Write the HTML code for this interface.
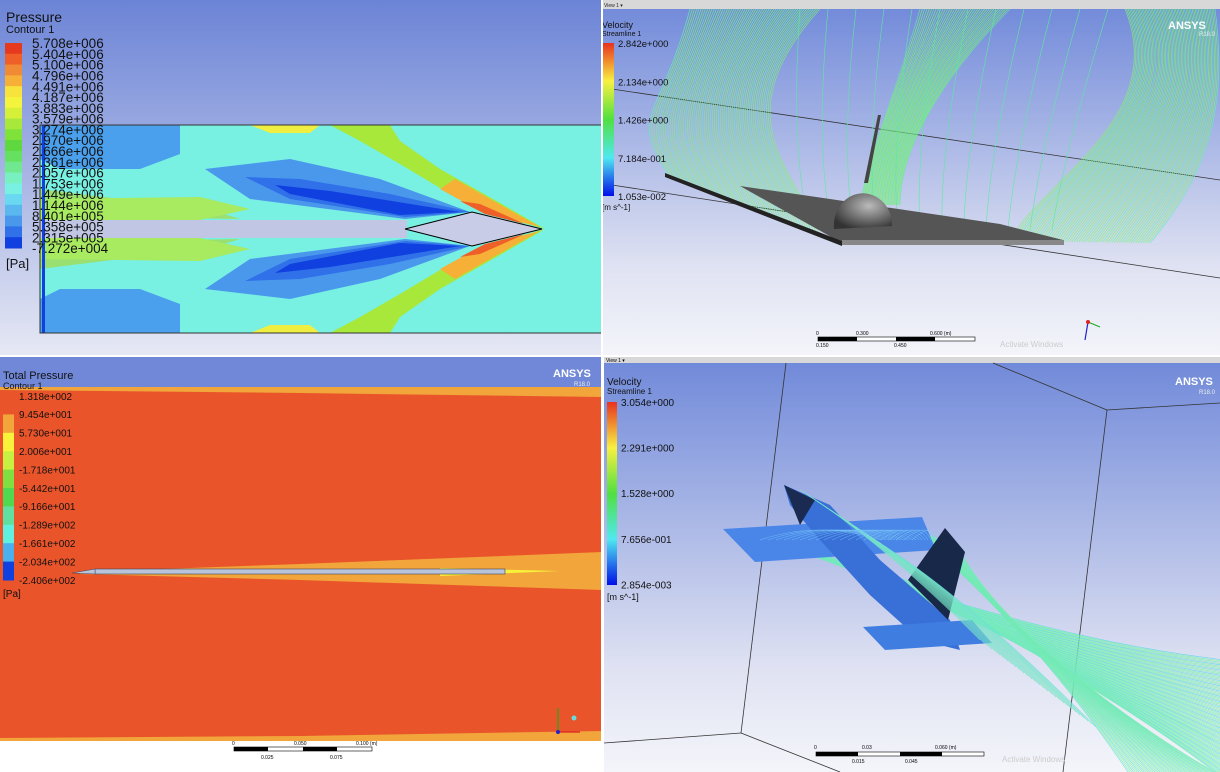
<!DOCTYPE html>
<html><head><meta charset="utf-8">
<style>
html,body{margin:0;padding:0;background:#fff;width:1220px;height:772px;overflow:hidden;}
body{font-family:"Liberation Sans",sans-serif;}
svg{display:block;overflow:hidden}
text{font-family:"Liberation Sans",sans-serif;}
</style></head>
<body>
<svg id="s" width="1220" height="772" viewBox="0 0 1220 772">
<defs>
<linearGradient id="bgA" x1="0" y1="0" x2="0" y2="1"><stop offset="0" stop-color="#6c84d6"/><stop offset="1" stop-color="#e6e8f4"/></linearGradient>
<linearGradient id="bgB" x1="0" y1="0" x2="0" y2="1"><stop offset="0" stop-color="#6f88d9"/><stop offset="0.75" stop-color="#dfe2f2"/><stop offset="1" stop-color="#f4f5fa"/></linearGradient>
<linearGradient id="cbV" x1="0" y1="0" x2="0" y2="1"><stop offset="0" stop-color="#e8321e"/><stop offset="0.25" stop-color="#f8f040"/><stop offset="0.5" stop-color="#50e040"/><stop offset="0.75" stop-color="#50e8f0"/><stop offset="1" stop-color="#0010e8"/></linearGradient>
<radialGradient id="dome" cx="0.6" cy="0.35" r="0.7"><stop offset="0" stop-color="#bbb"/><stop offset="1" stop-color="#333"/></radialGradient>
<clipPath id="cTR"><rect x="602" y="9" width="618" height="347"/></clipPath>
<clipPath id="cBR"><rect x="604" y="363" width="616" height="409"/></clipPath>
</defs>

<!-- TOP LEFT -->
<g>
<rect x="0" y="0" width="602" height="356" fill="url(#bgA)"/>
<g id="tlfield">
<rect x="40" y="125" width="562" height="208" fill="#78f0e2"/>
</g>
<rect x="40" y="125" width="562" height="208" fill="none" stroke="#333" stroke-width="1"/>
<text x="6" y="22" font-size="14" fill="#111">Pressure</text>
<text x="6" y="33" font-size="11" fill="#111">Contour 1</text>
<g id="tlcb"></g>
<text x="6" y="268" font-size="13" fill="#111">[Pa]</text>
</g>

<!-- TOP RIGHT -->
<g>
<rect x="602" y="0" width="618" height="356" fill="url(#bgB)"/>
<rect x="602" y="0" width="618" height="9" fill="#d8d8d8"/>
<text x="604" y="7" font-size="5" fill="#222">View 1 ▾</text>
<line x1="612" y1="89" x2="1220" y2="180" stroke="#333" stroke-width="0.8"/>
<line x1="612" y1="185" x2="1220" y2="278" stroke="#333" stroke-width="0.8"/>
<g id="trlines" clip-path="url(#cTR)"></g>
<polygon points="740,186 830,199 1000,224 1063,240 1063,245 842,243" fill="#555"/>
<polygon points="665,173 842,241 842,246 665,177" fill="#222"/>
<rect x="842" y="240" width="222" height="5" fill="#888"/>
<polygon points="878,115 881,115 868,183 864,183" fill="#444"/>
<path d="M 834 229 A 29 32 0 0 1 892 222 L 892 226 Z" fill="url(#dome)"/>
<g id="trlines2" clip-path="url(#cTR)"></g>
<text x="1168" y="29" font-size="11" font-weight="bold" fill="#fff">ANSYS</text>
<text x="1199" y="36" font-size="6" fill="#eee">R18.0</text>
<text x="602" y="28" font-size="9" fill="#111">Velocity</text>
<text x="602" y="36" font-size="7" fill="#111">Streamline 1</text>
<rect x="603" y="43" width="11" height="153" fill="url(#cbV)"/>
<g id="trcb"></g>
<text x="602" y="210" font-size="8" fill="#111">[m s^-1]</text>
<g>
<rect x="818" y="337" width="157" height="4" fill="#fff" stroke="#000" stroke-width="0.6"/>
<rect x="818" y="337" width="39" height="4" fill="#000"/><rect x="896" y="337" width="39" height="4" fill="#000"/>
<text x="816" y="335" font-size="5">0</text><text x="856" y="335" font-size="5">0.300</text><text x="930" y="335" font-size="5">0.600 (m)</text>
<text x="816" y="347" font-size="5">0.150</text><text x="894" y="347" font-size="5">0.450</text>
</g>
<text x="1000" y="347" font-size="8" fill="#ccc">Activate Windows</text>
<line x1="1088" y1="322" x2="1100" y2="327" stroke="#2a2" stroke-width="1.2"/><line x1="1088" y1="322" x2="1085" y2="340" stroke="#22c" stroke-width="1.2"/><circle cx="1088" cy="322" r="2" fill="#d22"/>
</g>

<!-- BOTTOM LEFT -->
<g>
<rect x="0" y="356" width="604" height="416" fill="#fff"/>
<rect x="0" y="357" width="602" height="33" fill="#7188d8"/>
<rect x="0" y="387" width="602" height="354" fill="#e9542a"/>
<polygon points="0,387 602,387 602,397 300,393 0,390" fill="#f1a53a"/>
<polygon points="0,741 602,741 602,731 300,736 0,738" fill="#f1a53a"/>
<polygon points="80,572 300,564 602,552 602,590 300,580 80,574" fill="#f1a53a"/>
<polygon points="440,568 560,571 440,576" fill="#f8f23a"/>
<rect x="95" y="569" width="410" height="5" fill="#b8c4dc" stroke="#445" stroke-width="0.6"/>
<polygon points="72,573 95,569 95,574" fill="#b8c4dc" stroke="#445" stroke-width="0.5"/>
<text x="3" y="379" font-size="11" fill="#111">Total Pressure</text>
<text x="3" y="389" font-size="9" fill="#111">Contour 1</text>
<text x="553" y="377" font-size="11" font-weight="bold" fill="#fff">ANSYS</text>
<text x="574" y="386" font-size="6" fill="#eee">R18.0</text>
<g id="blcb"></g>
<text x="3" y="597" font-size="10" fill="#111">[Pa]</text>
<line x1="558" y1="732" x2="558" y2="708" stroke="#2a2" stroke-width="1.2"/><line x1="558" y1="732" x2="580" y2="732" stroke="#d22" stroke-width="1.2"/><circle cx="558" cy="732" r="2" fill="#22c"/><circle cx="574" cy="718" r="2.5" fill="#6dd"/>
<g>
<rect x="234" y="747" width="138" height="4" fill="#fff" stroke="#000" stroke-width="0.6"/>
<rect x="234" y="747" width="34" height="4" fill="#000"/><rect x="303" y="747" width="34" height="4" fill="#000"/>
<text x="232" y="745" font-size="5">0</text><text x="294" y="745" font-size="5">0.050</text><text x="356" y="745" font-size="5">0.100 (m)</text>
<text x="261" y="759" font-size="5">0.025</text><text x="330" y="759" font-size="5">0.075</text>
</g>
</g>

<!-- BOTTOM RIGHT -->
<g>
<rect x="604" y="356" width="616" height="416" fill="url(#bgB)"/>
<rect x="604" y="356" width="616" height="7" fill="#d8d8d8"/>
<text x="606" y="362" font-size="5">View 1 ▾</text>
<g stroke="#333" stroke-width="0.8" fill="none">
<line x1="786" y1="363" x2="741" y2="733"/><line x1="741" y1="733" x2="604" y2="743"/><line x1="741" y1="733" x2="840" y2="772"/>
<line x1="993" y1="363" x2="1107" y2="410"/><line x1="1107" y1="410" x2="1220" y2="403"/><line x1="1107" y1="410" x2="1063" y2="772"/>
</g>
<g id="brlines" clip-path="url(#cBR)"></g>
<polygon points="723,529 922,517 936,550 755,562" fill="#4a86e8"/>
<polygon points="784,485 830,505 880,560 950,620 960,650 920,640 870,595 820,540 790,505" fill="#3870d8"/>
<polygon points="784,485 815,500 800,525" fill="#1a2a50"/>
<polygon points="945,528 965,552 948,620 908,580" fill="#182848"/>
<polygon points="863,627 972,620 992,643 885,650" fill="#3f7ee0"/>
<g id="brlines2" clip-path="url(#cBR)"></g>
<text x="1175" y="385" font-size="11" font-weight="bold" fill="#fff">ANSYS</text>
<text x="1199" y="394" font-size="6" fill="#eee">R18.0</text>
<text x="607" y="385" font-size="10" fill="#111">Velocity</text>
<text x="607" y="394" font-size="8" fill="#111">Streamline 1</text>
<rect x="607" y="402" width="10" height="183" fill="url(#cbV)"/>
<g id="brcb"></g>
<text x="607" y="600" font-size="9" fill="#111">[m s^-1]</text>
<g>
<rect x="816" y="752" width="168" height="4" fill="#fff" stroke="#000" stroke-width="0.6"/>
<rect x="816" y="752" width="42" height="4" fill="#000"/><rect x="900" y="752" width="42" height="4" fill="#000"/>
<text x="814" y="749" font-size="5">0</text><text x="862" y="749" font-size="5">0.03</text><text x="935" y="749" font-size="5">0.060 (m)</text>
<text x="852" y="763" font-size="5">0.015</text><text x="905" y="763" font-size="5">0.045</text>
</g>
<text x="1002" y="762" font-size="8" fill="#ccc">Activate Windows</text>
</g>
<line x1="602" y1="0" x2="602" y2="772" stroke="#fff" stroke-width="2"/>
<line x1="0" y1="356" x2="1220" y2="356" stroke="#fff" stroke-width="2"/>
</svg>
<script>
const tlLabels=["5.708e+006","5.404e+006","5.100e+006","4.796e+006","4.491e+006","4.187e+006","3.883e+006","3.579e+006","3.274e+006","2.970e+006","2.666e+006","2.361e+006","2.057e+006","1.753e+006","1.449e+006","1.144e+006","8.401e+005","5.358e+005","2.315e+005","-7.272e+004"];
const tlColors=["#e63a1e","#ee6028","#f18a34","#f6b038","#f8e23c","#f4f43c","#d6f03a","#a8e83a","#7ee23a","#5ed83e","#66e060","#70e890","#78f0c0","#78f0e2","#6ad8f0","#5ab8ee","#4a98ec","#3070e8","#1040e0"];
const blLabels=["1.318e+002","9.454e+001","5.730e+001","2.006e+001","-1.718e+001","-5.442e+001","-9.166e+001","-1.289e+002","-1.661e+002","-2.034e+002","-2.406e+002"];
const blColors=["#e9542a","#f1a53a","#f8f23a","#c8f040","#80e040","#50d850","#60e0a0","#60f0e0","#4ab0ee","#1040e0"];
const trLabels=["2.842e+000","2.134e+000","1.426e+000","7.184e-001","1.053e-002"];
const brLabels=["3.054e+000","2.291e+000","1.528e+000","7.656e-001","2.854e-003"];
const NS="http://www.w3.org/2000/svg";
function mk(tag,at,parent){const e=document.createElementNS(NS,tag);for(const k in at)e.setAttribute(k,at[k]);parent.appendChild(e);return e;}
function bar(g,x,y0,w,h,colors,labels,lx,fs){
  const bh=h/colors.length;
  colors.forEach((c,i)=>{const r=mk('rect',{x:x,y:y0+i*bh,width:w,height:bh+0.5,fill:c},g);
    
    });
  const step=h/(labels.length-1);
  labels.forEach((l,i)=>{const t=mk('text',{x:lx,y:y0+i*step+fs*0.38,'font-size':fs,fill:'#111'},g);t.textContent=l;
    
    });
}
bar(document.getElementById('tlcb'),5,43,17,205,tlColors,tlLabels,32,13.5);
bar(document.getElementById('blcb'),3,396,11,184,blColors,blLabels,19,10);
(function(){const g=document.getElementById('trcb');trLabels.forEach((l,i)=>{const t=mk('text',{x:618,y:47+i*38.3,'font-size':9.5,fill:'#111'},g);t.textContent=l;
 
 });})();
(function(){const g=document.getElementById('brcb');brLabels.forEach((l,i)=>{const t=mk('text',{x:621,y:406+i*45.6,'font-size':10,fill:'#111'},g);t.textContent=l;
 
 });})();

// Top-left contour field
(function(){const g=document.getElementById('tlfield');const cy=229;
 function sym(pts,fill){[1,-1].forEach(s=>{mk('polygon',{points:pts.map(p=>p[0]+','+(cy+s*p[1])).join(' '),fill:fill},g);});}
 sym([[40,104],[180,104],[180,75],[140,60],[60,60],[40,70]],'#4aa0ec');
 sym([[40,40],[120,30],[200,22],[240,10],[120,12],[40,14]],'#9ae070');
 sym([[40,9],[200,9],[250,20],[200,32],[40,30]],'#a8ea60');
 sym([[240,104],[330,104],[360,88],[400,65],[450,35],[510,10],[545,0],[500,26],[440,60],[400,88],[390,104]],'#a8e83a');
 sym([[250,104],[320,104],[310,96],[270,96]],'#f0ee40');
 sym([[440,40],[480,18],[540,2],[490,30],[455,50]],'#f6b038');
 sym([[460,28],[485,15],[525,5],[480,25]],'#ee6028');
 sym([[205,60],[250,30],[405,10],[470,17],[380,50],[290,70]],'#4a98ec');
 sym([[245,52],[290,30],[405,12],[470,17],[390,35],[300,50]],'#3070e8');
 sym([[275,44],[290,35],[400,14],[460,17],[330,38]],'#1040e0');
 mk('rect',{x:40,y:220,width:367,height:18,fill:'#c0c6e4'},g);
 mk('polygon',{points:'405,229 472,212 542,229 472,246',fill:'#c8cce6',stroke:'#000','stroke-width':1},g);
 mk('rect',{x:42,y:125,width:3,height:208,fill:'#1040e0'},g);
})();

// Top-right streamlines (decorative)
(function(){const g=document.getElementById('trlines');
 // left group: from left wing leading edge up, bulging left
 for(let i=0;i<60;i++){const t=i/59;const sx=668+t*150, sy=174+t*58;const tx=690+t*130;
  const p=mk('path',{d:`M ${sx} ${sy} C ${sx-40+t*20} ${sy-60}, ${660+t*60} ${120}, ${tx} 9`,stroke:i%4?'#7ef07a':'#60f0b8','stroke-width':0.8,fill:'none',opacity:0.8},g);
  
  }
 // right group
 for(let i=0;i<60;i++){const t=i/59;const sx=1150-t*140, sy=243-t*2;const tx=1215-t*90;
  const p=mk('path',{d:`M ${sx} ${sy} C ${sx+50-t*20} ${sy-60}, ${1230-t*60} ${120}, ${tx} 9`,stroke:i%4?'#7ef07a':'#60f0b8','stroke-width':0.8,fill:'none',opacity:0.8},g);
  
  }
 // center group near fin
 for(let i=0;i<40;i++){const t=i/39;
  const p=mk('path',{d:`M ${860+t*40} ${205} C ${870+t*30} 150, ${900+t*40} 80, ${920+t*90} 9`,stroke:i%3?'#80f070':'#60e8a8','stroke-width':0.8,fill:'none',opacity:0.8},g);
  
  }
 for(let i=0;i<12;i++){mk('path',{d:`M ${810+i*22} 230 Q ${790+i*25} 150 ${800+i*28} 9`,stroke:'#5ee8a0','stroke-width':0.6,fill:'none'},g);}
})();
// Bottom-right streamlines
(function(){const g=document.getElementById('brlines');
 for(let i=0;i<90;i++){const t=i/89;
  const p=mk('path',{d:`M ${740+t*200} ${530+t*60} C ${880+t*120} ${580+t*60}, ${1050+t*60} ${640+t*50}, 1225 ${660+t*120}`,stroke:i%4?'#7ef0b0':'#5ad8e8','stroke-width':0.7,fill:'none',opacity:0.85},g);
  
  }
 for(let i=0;i<50;i++){const t=i/49;
  const p=mk('path',{d:`M ${900+t*60} ${520+t*30} C 1000 ${600+t*30}, ${1080+t*60} ${700+t*30}, ${1130+t*90} 775`,stroke:i%3?'#80f0a8':'#60e0d8','stroke-width':0.7,fill:'none',opacity:0.85},g);
  
  }
 const g2=document.getElementById('brlines2');
 for(let i=0;i<30;i++){mk('path',{d:`M ${800+i*3} ${490+i*2} Q ${880+i*3} ${540+i*2} ${980+i*4} ${640+i*3}`,stroke:i%2?'#60d8f0':'#8ef0a0','stroke-width':0.6,fill:'none',opacity:0.75},g2);}
 for(let i=0;i<20;i++){mk('path',{d:`M ${760+i*8} ${540} Q ${820+i*6} ${520} ${880+i*3} ${540}`,stroke:'#7ac8f8','stroke-width':0.6,fill:'none',opacity:0.7},g2);}
})();
</script>
</body></html>
